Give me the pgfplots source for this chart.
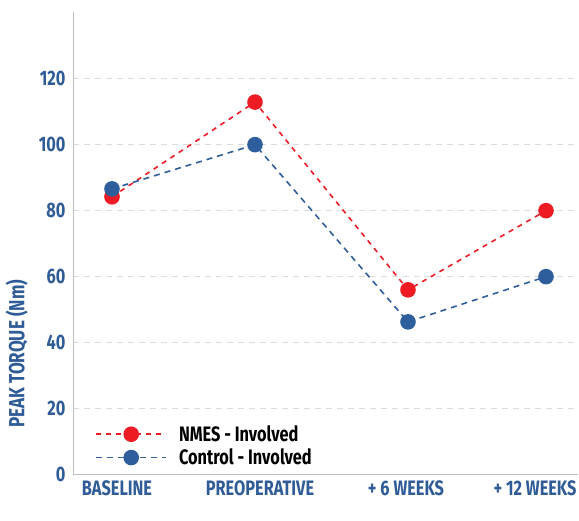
\documentclass[border=0pt]{standalone}
\usepackage{pgfplots}
\pgfplotsset{compat=1.18}
\usepackage{fontspec}
\setmainfont{Fira Sans}[FakeStretch=0.78]
\definecolor{nmes}{RGB}{237,28,36}
\definecolor{ctrl}{RGB}{46,94,155}
\definecolor{lab}{RGB}{47,92,151}
\definecolor{axg}{RGB}{190,190,190}
\definecolor{grd}{RGB}{220,220,220}
\begin{document}
\begin{tikzpicture}
\useasboundingbox (-73bp,-47bp) rectangle (506bp,474bp);
\begin{axis}[
  at={(0,0)}, anchor=south west,
  scale only axis, width=505bp, height=462bp,
  xmin=0, xmax=505, ymin=0, ymax=140,
  axis x line=bottom, axis y line=left,
  axis line style={-, draw=axg, line width=1pt},
  xtick={44,187,333,462},
  xticklabels={BASELINE,PREOPERATIVE,+ 6 WEEKS,+ 12 WEEKS},
  ytick={0,20,40,60,80,100,120},
  major tick length=0pt,
  /pgf/number format/assume math mode=true,
  tick label style={font=\fontsize{21}{23}\selectfont\bfseries, text=lab},
  xticklabel style={yshift=-3bp},
  yticklabel style={xshift=-4bp},
  ymajorgrids, grid style={draw=grd, dash pattern=on 6bp off 5bp, line width=0.8pt},
  ylabel={PEAK TORQUE (Nm)},
  ylabel style={font=\fontsize{22}{24}\selectfont\bfseries, text=lab, at={(ticklabel cs:0.26)}, yshift=4bp},
  legend style={draw=none, fill=none, at={(0.044,0.012)}, anchor=south west,
    font=\fontsize{21}{24}\selectfont\bfseries, row sep=2bp, inner sep=0pt},
  legend cell align=left,
  legend image code/.code={\draw[mark repeat=2,mark phase=2] plot coordinates {(0bp,0bp) (35bp,0bp) (70bp,0bp)}; \path (80bp,0bp);},
]
\addplot[nmes, line width=1.6pt, dash pattern=on 5bp off 5bp, mark=*, mark size=7bp, mark options={solid, fill=nmes, draw=nmes}]
  coordinates {(39,84) (182,112.7) (335,55.8) (473,79.8)};
\addlegendentry{NMES - Involved}
\addplot[ctrl, line width=1.6pt, dash pattern=on 6bp off 5bp, mark=*, mark size=7bp, mark options={solid, fill=ctrl, draw=ctrl}]
  coordinates {(39,86.4) (182,99.8) (335,46.1) (473,59.8)};
\addlegendentry{Control - Involved}
\end{axis}
\end{tikzpicture}
\end{document}
